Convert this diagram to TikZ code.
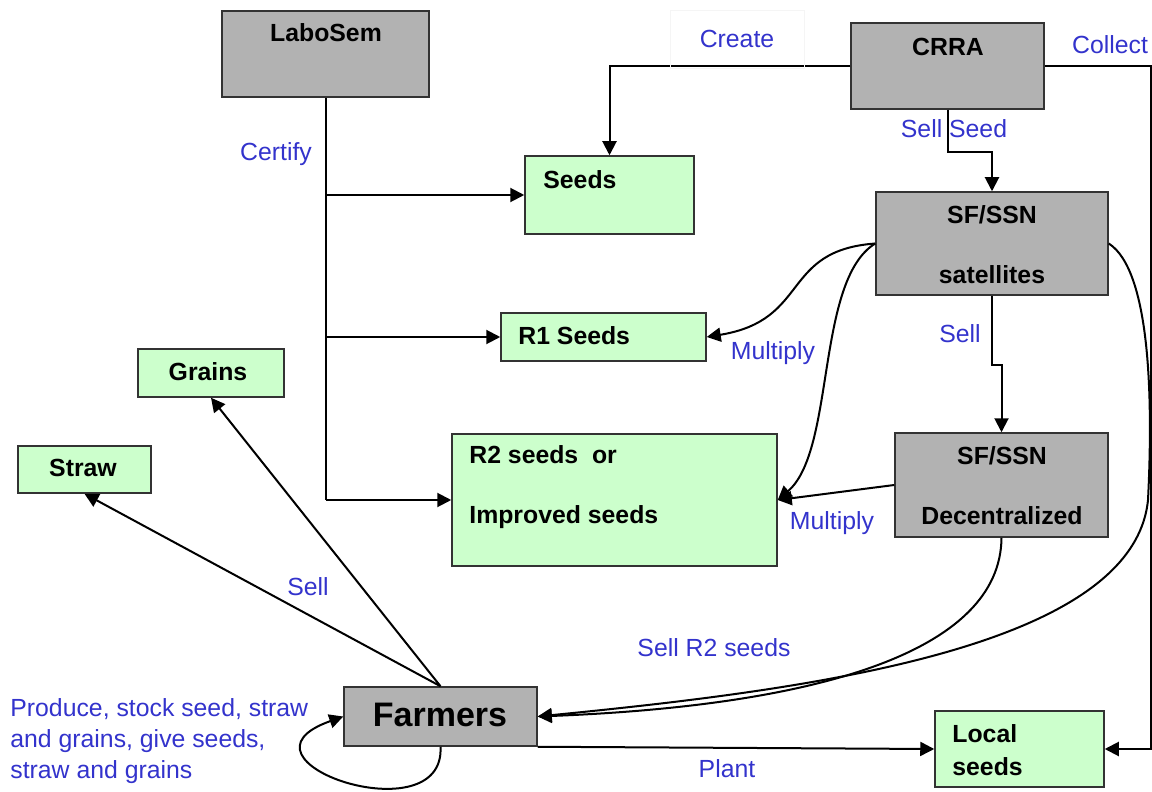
\documentclass[tikz,border=0pt]{standalone}
\usepackage{fontspec}
\setmainfont{Liberation Sans}
\usetikzlibrary{arrows.meta,fit}
\definecolor{boxgray}{RGB}{178,178,178}
\definecolor{boxgreen}{RGB}{204,255,204}
\definecolor{lblue}{RGB}{51,51,204}
\tikzset{
	gr/.style={draw=black!80, line width=0.75pt, fill=boxgray, inner sep=0pt},
	gn/.style={draw=black!80, line width=0.75pt, fill=boxgreen, inner sep=0pt},
	tx/.style={font=\fontsize{12.4}{30}\selectfont\bfseries, inner sep=0pt},
	lb/.style={text=lblue, font=\fontsize{12.4}{15.5}\selectfont, inner sep=0pt},
	ln/.style={line width=1pt},
	ar/.style={line width=1pt, -{Triangle[length=7pt,width=7pt]}},
}
\begin{document}
\begin{tikzpicture}[x=0.5pt,y=-0.5pt]
	\useasboundingbox (0,0) rectangle (1152,792);

	% boxes
	\node [gr, fit={(222,11) (429,97)}] (labo) {};
	\node [gr, fit={(851,23) (1044,109)}] (crra) {};
	\node [gn, fit={(525,156) (694,234)}] (seeds) {};
	\node [gr, fit={(876,192) (1108,295)}] (sat) {};
	\node [gn, fit={(501,313) (706,361)}] (r1) {};
	\node [gn, fit={(138,349) (284,397)}] (grains) {};
	\node [gn, fit={(18,446) (151,493)}] (straw) {};
	\node [gn, fit={(452,434) (777,566)}] (r2) {};
	\node [gr, fit={(895,433) (1108,537)}] (dec) {};
	\node [gr, fit={(344,687) (537,746)}] (farm) {};
	\node [gn, fit={(935,711) (1104,787)}] (local) {};

	% box texts
	\node [tx] (labo-t) at (326,33) {LaboSem};
	\node [tx] (crra-t) at (948,47) {CRRA};
	\node [tx, anchor=west] (seeds-t) at (543,180) {Seeds};
	\node [tx, align=center] (sat-t) at (992,245) {SF/SSN\\satellites};
	\node [tx, anchor=west] (r1-t) at (518,336) {R1 Seeds};
	\node [tx] (grains-t) at (208,372) {Grains};
	\node [tx] (straw-t) at (83,468) {Straw};
	\node [tx, align=left, anchor=west] (r2-t) at (469,487) {R2 seeds\ \ or\\Improved seeds};
	\node [tx, align=center] (dec-t) at (1002,486) {SF/SSN\\Decentralized};
	\node [tx, font=\fontsize{17}{20}\selectfont\bfseries] (farm-t) at (440,715) {Farmers};
	\node [tx, align=left, anchor=west, font=\fontsize{12.4}{16.5}\selectfont\bfseries] (local-t) at (952,750) {Local\\seeds};

	% connectors
	\draw [ln] (labo.south) -- (labo.south |- r2.west);
	\draw [ar] (labo.south |- seeds.west) -- (seeds.west);
	\draw [ar] (labo.south |- r1.west) -- (r1.west);
	\draw [ar] (labo.south |- r2.west) -- (r2.west);

	\draw [ar] (crra.west) -| (seeds.north);
	\draw [ar] (crra.east) -- ++(106,0) |- (local.east);
	\draw [ar] (crra.south) -- ++(0,42) -| (sat.north);
	\draw [ar] (sat.south) -- ++(0,69) -| (dec.north);

	\draw [ar] (sat.west) .. controls +(-95,7) and +(104,-17) .. (r1.east);
	\draw [ar] (sat.west) .. controls +(-60,37) and +(58,-50) .. (r2.east);
	\draw [ar] (dec.west) -- (r2.east);

	\draw [ar] (dec.south) .. controls +(-1,113) and +(283,-11) .. (farm.east);
	\draw [ar] (sat.east) .. controls +(42,27) and +(5,-100) .. (1148,500)
		.. controls +(-15,150) and +(263,-26) .. (farm.east);

	\draw [ar] (farm.south east) -- (local.west);
	\draw [ar] (farm.north) -- (grains.south);
	\draw [ar] (farm.north) -- (straw.south);
	\draw [ar] (farm.south) .. controls +(5,90) and +(-124,44) .. (farm.west);

	% labels
	\node [lb, draw=black!4, minimum width=67pt, minimum height=29pt] (create) at (737,39) {Create};
	\node [lb] (collect) at (1110,45) {Collect};
	\node [lb] (certify) at (276,154) {Certify};
	\node [lb] (sellseed) at (954,129) {Sell Seed};
	\node [lb] (mult1) at (773,353) {Multiply};
	\node [lb] (sell1) at (960,334) {Sell};
	\node [lb] (mult2) at (832,523) {Multiply};
	\node [lb] (sell2) at (308,587) {Sell};
	\node [lb] (sellr2) at (714,648) {Sell R2 seeds};
	\node [lb] (plant) at (727,769) {Plant};
	\node [lb, align=left, anchor=west] (produce) at (10,741) {Produce, stock seed, straw\\and grains, give seeds,\\straw and grains};
\end{tikzpicture}
\end{document}
